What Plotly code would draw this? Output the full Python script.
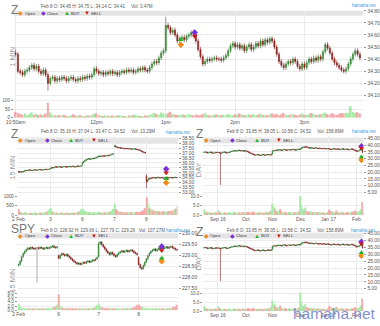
import plotly.graph_objects as go

W, H = 380, 326
FONT = "Liberation Sans, Arial, sans-serif"

# ================= DATA =================
# ---- Panel A : Z 1 MIN (x = minutes after 10:50am) ----
A_symbol, A_period = "Z", "1 MIN"
A_info, A_vol_info = "Feb 8 O: 34.45 H: 34.75 L: 34.14 C: 34.41", "Vol: 3.47M"
A_t = list(range(0, 300, 2))
A_close = [34.44, 34.30, 34.29, 34.27, 34.30, 34.31, 34.33, 34.35, 34.32, 34.34,
           34.30, 34.28, 34.31, 34.27, 34.20, 34.24, 34.25, 34.22, 34.24, 34.23,
           34.25, 34.24, 34.22, 34.24, 34.25, 34.23, 34.22, 34.24, 34.23, 34.25,
           34.24, 34.26, 34.25, 34.27, 34.32, 34.30, 34.28, 34.29, 34.27, 34.29,
           34.28, 34.30, 34.28, 34.29, 34.27, 34.29, 34.30, 34.29, 34.31, 34.30,
           34.31, 34.29, 34.30, 34.32, 34.31, 34.33, 34.31, 34.30, 34.33, 34.36,
           34.38, 34.37, 34.41, 34.45, 34.47, 34.68, 34.66, 34.62, 34.64, 34.60,
           34.55, 34.57, 34.58, 34.56, 34.59, 34.60, 34.62, 34.61, 34.55, 34.48,
           34.42, 34.36, 34.38, 34.40, 34.39, 34.40, 34.41, 34.40, 34.40, 34.39,
           34.41, 34.43, 34.47, 34.51, 34.53, 34.50, 34.52, 34.49, 34.51, 34.47,
           34.50, 34.52, 34.48, 34.50, 34.53, 34.51, 34.55, 34.52, 34.56, 34.54,
           34.57, 34.55, 34.50, 34.44, 34.38, 34.35, 34.33, 34.36, 34.38, 34.37,
           34.40, 34.38, 34.34, 34.32, 34.36, 34.33, 34.37, 34.40, 34.38, 34.41,
           34.39, 34.42, 34.40, 34.46, 34.52, 34.49, 34.45, 34.40, 34.37, 34.35,
           34.33, 34.31, 34.30, 34.32, 34.36, 34.40, 34.44, 34.47, 34.44, 34.41]
A_first_open = 34.45
A_open_fix = {}
A_high_fix = {0: 34.48, 65: 34.75}
A_low_fix = {14: 34.14}
A_vol = [35, 28, 22, 18, 25, 15, 20, 30, 18, 22,
         16, 20, 14, 24, 85, 30, 18, 15, 12, 16,
         14, 18, 12, 10, 15, 20, 13, 11, 16, 12,
         10, 14, 12, 18, 22, 26, 14, 12, 10, 15,
         12, 10, 14, 11, 13, 16, 12, 10, 9, 14,
         12, 15, 18, 13, 11, 10, 14, 12, 16, 20,
         28, 22, 18, 30, 24, 20, 26, 34, 22, 18,
         16, 14, 20, 18, 15, 22, 17, 14, 19, 16,
         14, 20, 26, 18, 15, 13, 17, 21, 16, 14,
         18, 15, 22, 16, 14, 20, 17, 24, 19, 15,
         18, 22, 16, 20, 15, 17, 24, 18, 14, 16,
         20, 26, 18, 22, 15, 19, 28, 16, 14, 18,
         22, 17, 15, 19, 24, 18, 16, 20, 28, 22,
         18, 15, 20, 24, 30, 22, 18, 26, 20, 16,
         22, 28, 24, 30, 26, 65, 34, 28, 32, 24]
A_xticks = [0, 70, 130, 190, 250]
A_xlabels = ["10:50am", "12pm", "1pm", "2pm", "3pm"]
A_yticks = [34.10, 34.20, 34.30, 34.40, 34.50, 34.60, 34.70, 34.80]
A_vticks = [0, 50, 100]
A_vsuffix = "K"
A_mark_x = [143, 155, 143, 155]          # open, close, buy, sell
A_mark_y = [34.52, 34.62, 34.56, 34.59]

# ---- Panel B : Z 15 MIN (x = bar index, 26 bars per day) ----
B_symbol, B_period = "Z", "15 MIN"
B_info, B_vol_info = "Feb 8 O: 35.16 H: 37.04 L: 33.47 C: 34.52", "Vol: 13.29M"
B_close = [35.10, 35.05, 35.12, 35.08, 35.15, 35.20, 35.25, 35.22, 35.28, 35.30,
           35.26, 35.24, 35.28, 35.32, 35.29, 35.27, 35.30, 35.34, 35.31, 35.28,
           35.30, 35.33, 35.36, 35.32, 35.35, 35.38,
           35.45, 35.55, 35.50, 35.58, 35.62, 35.57, 35.60, 35.64, 35.59, 35.56,
           35.61, 35.65, 35.62, 35.58, 35.63, 35.66, 35.61, 35.64, 35.68, 35.63,
           35.60, 35.66, 35.70, 35.65, 35.68, 35.72,
           36.05, 36.15, 36.25, 36.35, 36.40, 36.45, 36.38, 36.42, 36.48, 36.44,
           36.50, 36.55, 36.62, 36.70, 36.66, 36.72, 36.68, 36.75, 36.70, 36.73,
           36.78, 36.74, 36.80, 36.85, 36.90, 36.95,
           37.75, 37.65, 37.60, 37.55, 37.58, 37.50, 37.52, 37.48, 37.45, 37.50,
           37.47, 37.43, 37.46, 37.44, 37.40, 37.42, 37.45, 37.41, 37.38, 37.35,
           37.30, 37.25, 37.18, 37.12, 37.08, 37.02,
           34.10, 34.30, 34.45, 34.40, 34.50, 34.48, 34.52, 34.45, 34.50, 34.55,
           34.50, 34.47, 34.52, 34.49, 34.46, 34.51, 34.55, 34.50, 34.48, 34.53,
           34.50, 34.47, 34.52, 34.55, 34.50, 34.52]
B_first_open = 35.16
B_open_fix = {26: 35.40, 52: 35.80, 78: 37.70, 104: 34.70}
B_high_fix = {104: 34.85}
B_low_fix = {104: 33.47}
B_vol = [320, 180, 140, 120, 110, 150, 130, 100, 90, 120, 110, 95, 105, 130, 100, 90, 115, 140, 120, 100, 110, 130, 150, 170, 200, 280,
         380, 220, 160, 140, 120, 130, 110, 100, 120, 140, 110, 100, 95, 120, 130, 110, 105, 125, 140, 115, 120, 150, 160, 180, 210, 300,
         350, 240, 200, 180, 160, 150, 130, 140, 120, 150, 130, 110, 140, 160, 130, 120, 110, 140, 150, 130, 140, 160, 180, 190, 220, 320,
         600, 320, 250, 200, 180, 170, 160, 140, 150, 130, 140, 120, 130, 150, 140, 120, 130, 160, 170, 150, 160, 180, 200, 230, 260, 380,
         950, 620, 420, 350, 300, 260, 240, 220, 200, 210, 190, 180, 170, 200, 190, 180, 170, 190, 210, 200, 220, 240, 260, 300, 350, 520]
B_xticks = [0, 26, 52, 78, 104]
B_xlabels = ["2 Feb", "3", "6", "7", "8"]
B_yticks = [33.0, 33.5, 34.0, 34.5, 35.0, 35.5, 36.0, 36.5, 37.0, 37.5, 38.0, 38.5]
B_vticks = [0, 500, 1000]
B_vsuffix = "K"
B_mark_x = [120, 120, 120, 120]
B_mark_y = [34.0, 35.4, 34.4, 35.0]

# ---- Panel C / E : Z DAY (x = trading-day index, Aug 17 2016 .. Feb 8 2017) ----
C_symbol, C_period = "Z", "DAY"
C_info, C_vol_info = "Feb 8 O: 33.85 H: 38.05 L: 10.58 C: 34.52", "Vol: 158.89M"
C_close = [34.8, 35.0, 34.6, 34.2, 34.5, 34.9, 34.4, 34.0, 34.3, 34.7, 34.5,
           34.6, 34.3, 34.0, 34.4, 34.8, 35.0, 34.6, 34.2, 34.5, 34.9, 35.2,
           35.5, 35.8, 36.0, 35.7, 35.9, 36.3, 36.1, 35.8, 36.0, 35.6, 35.9,
           35.7, 35.2, 34.8, 34.3, 33.9, 33.5, 33.0, 32.6, 32.9, 33.2, 32.8,
           32.4, 32.7, 33.1, 32.9, 32.5, 32.8, 33.2, 33.0, 32.7, 33.4,
           35.8, 36.2, 36.0, 36.5, 36.3, 36.7, 36.4, 36.1, 36.6, 36.9, 36.5,
           36.2, 36.6, 36.8, 36.4, 36.7, 37.0, 36.6, 36.3, 36.7, 37.1, 36.8,
           37.4, 38.2, 38.7, 38.4, 38.9, 38.5, 38.1, 37.8, 38.2, 37.9, 37.6,
           37.9, 38.1, 37.7, 37.4, 37.8, 37.6, 37.3, 37.7, 37.5, 37.2, 37.6,
           37.4, 37.1, 36.8, 37.2, 37.5, 37.1, 36.9, 37.3, 37.0, 36.7, 37.1,
           37.4, 37.0, 36.8, 37.2, 36.9, 36.6, 37.0, 37.3, 36.9, 36.5, 36.0,
           35.4, 35.7, 36.2, 36.8, 37.0, 34.52]
C_first_open = 34.6
C_open_fix = {}
C_high_fix = {125: 38.05}
C_low_fix = {13: 10.58}
C_vol = [3.0, 1.8, 1.5, 1.2, 1.6, 1.3, 1.1, 1.4, 1.2, 1.5, 1.3,
         2.6, 1.8, 1.4, 1.2, 1.1, 1.5, 1.3, 1.0, 1.2, 1.6, 1.4, 1.1, 1.3, 1.7, 1.2, 1.0, 1.5, 1.3, 1.1, 1.4, 1.6, 1.2,
         1.3, 1.5, 1.8, 1.4, 1.2, 1.6, 1.9, 1.3, 1.1, 1.4, 1.2, 1.5, 1.3, 1.0, 1.2, 1.4, 1.6, 1.3, 1.5, 2.0, 2.4,
         6.0, 4.2, 3.0, 2.2, 1.8, 2.5, 3.2, 2.0, 1.6, 1.4, 1.8, 1.5, 1.3, 1.7, 1.4, 1.2, 1.5, 1.3, 1.6, 1.4, 1.8, 2.0,
         10.5, 5.0, 3.2, 2.4, 4.0, 2.2, 1.8, 1.6, 2.0, 1.5, 1.4, 1.8, 1.3, 1.6, 1.2, 1.5, 1.4, 1.1, 1.3, 1.2, 1.0, 1.4,
         1.6, 3.0, 2.2, 1.8, 1.5, 1.3, 2.4, 1.6, 1.4, 1.2, 1.5, 1.8, 1.3, 1.1, 1.4, 1.6, 1.2, 1.5, 1.3, 1.7, 2.0, 2.3,
         1.8, 1.5, 2.0, 2.6, 3.2, 7.0]
C_xticks = [11, 33, 54, 76, 98, 120]
C_xlabels = ["Sep 16", "Oct", "Nov", "Dec", "Jan 17", "Feb"]
C_yticks = [5, 10, 15, 20, 25, 30, 35, 40, 45]
C_vticks = [0, 5, 10]
C_vsuffix = "M"
C_mark_x = [124, 124, 124, 124]
C_mark_y = [29.0, 39.2, 31.2, 37.7]

# ---- Panel D : SPY 15 MIN (x = bar index, 26 bars per day) ----
D_symbol, D_period = "SPY", "15 MIN"
D_info, D_vol_info = "Feb 8 O: 228.92 H: 229.66 L: 227.79 C: 229.26", "Vol: 107.27M"
D_close = [228.60, 228.75, 228.95, 229.10, 229.20, 229.28, 229.35, 229.30, 229.38, 229.34,
           229.30, 229.33, 229.36, 229.32, 229.38, 229.35, 229.30, 229.34, 229.37, 229.33,
           229.36, 229.40, 229.44, 229.38, 229.36, 229.40,
           228.88, 229.02, 229.10, 229.05, 229.00, 229.06, 228.98, 228.92, 228.85, 228.78,
           228.72, 228.68, 228.62, 228.66, 228.60, 228.64, 228.70, 228.66, 228.72, 228.76,
           228.70, 228.74, 228.80, 228.78, 228.85, 228.92,
           229.55, 229.62, 229.50, 229.40, 229.30, 229.20, 229.12, 229.05, 229.15, 229.08,
           229.00, 228.95, 229.05, 229.12, 229.18, 229.22, 229.16, 229.20, 229.24, 229.18,
           229.22, 229.26, 229.20, 229.14, 229.10, 229.05,
           228.60, 228.45, 228.40, 228.55, 228.70, 228.85, 229.00, 229.12, 229.20, 229.25,
           229.30, 229.22, 229.28, 229.35, 229.30, 229.38, 229.33, 229.36, 229.40, 229.34,
           229.38, 229.42, 229.36, 229.32, 229.28, 229.26]
D_first_open = 228.55
D_open_fix = {26: 229.00, 52: 228.95, 78: 228.92}
D_high_fix = {53: 229.66}
D_low_fix = {}
D_odd_x, D_odd_open, D_odd_low = [12], [229.36], [227.79]
D_vol = [3.0, 1.5, 1.2, 1.0, 0.9, 0.8, 0.7, 0.8, 0.6, 0.7, 0.6, 0.8, 0.7, 0.6, 0.5, 0.6, 0.7, 0.6, 0.8, 0.7, 0.9, 1.0, 1.2, 1.4, 1.8, 2.6,
         7.5, 2.0, 1.4, 1.1, 0.9, 0.8, 1.0, 0.8, 0.7, 0.9, 0.8, 0.7, 0.6, 0.8, 0.7, 0.6, 0.7, 0.8, 0.7, 0.9, 0.8, 1.0, 1.1, 1.3, 1.6, 2.4,
         3.2, 1.8, 1.4, 1.2, 1.0, 0.9, 0.8, 1.0, 0.9, 0.8, 0.7, 0.9, 0.8, 0.7, 0.6, 0.8, 0.7, 0.9, 0.8, 1.0, 0.9, 1.1, 1.2, 1.4, 1.7, 2.5,
         2.8, 2.0, 1.6, 1.3, 1.1, 1.0, 0.9, 0.8, 1.0, 0.9, 0.8, 0.7, 0.9, 0.8, 0.7, 0.8, 0.9, 0.7, 0.8, 1.0, 0.9, 1.1, 1.3, 1.5, 1.8, 2.6]
D_xticks = [0, 26, 52, 78]
D_xlabels = ["2 Feb", "6", "7", "8"]
D_yticks = [227.5, 228.0, 228.5, 229.0, 229.5, 230.0]
D_vticks = [0, 2, 4, 6, 8]
D_vsuffix = "M"
D_mark_x = [93, 93, 93, 93]
D_mark_y = [228.75, 229.42, 228.88, 229.24]

LEGEND_NAMES = ["Open", "Close", "BUY", "SELL"]
LEGEND_COLORS = ["#f08a1c", "#7b2fd6", "#22b522", "#d01818"]
LEGEND_GLYPHS = ["\u25c6", "\u25c6", "\u25b2", "\u25bc"]
MARK_SYMBOLS = ["diamond", "diamond", "triangle-up", "triangle-down"]

# ================= HELPERS =================
def px_x(a):
    return a / W

def px_y(a):
    return 1 - a / H

def build_ohlc(close, first_open, pad, open_fix, high_fix, low_fix):
    o = [first_open] + close[:-1]
    for k, v in open_fix.items():
        o[k] = v
    h = [max(a, b) + pad for a, b in zip(o, close)]
    l = [min(a, b) - pad for a, b in zip(o, close)]
    for k, v in high_fix.items():
        h[k] = v
    for k, v in low_fix.items():
        l[k] = v
    return o, h, l

fig = go.Figure()
annotations, shapes = [], []

def ann(x, y, text, size, color, xanchor="left", yanchor="middle", angle=0):
    annotations.append(dict(x=px_x(x), y=px_y(y), xref="paper", yref="paper", text=text,
                            showarrow=False, xanchor=xanchor, yanchor=yanchor, textangle=angle,
                            borderpad=0, font=dict(size=size, color=color, family=FONT)))

def add_panel(k, g, x, close, first_open, pad, ofix, hfix, lfix, vol,
              xticks, xlabels, yticks, yfmt, vticks, vsuffix, vfmt,
              mark_x, mark_y, symbol, period, info, volinfo):
    n, m = 2 * k + 1, 2 * k + 2
    xn = "x" if n == 1 else "x%d" % n
    yn = "y" if n == 1 else "y%d" % n
    xm, ym = "x%d" % m, "y%d" % m
    o, h, l = build_ohlc(close, first_open, pad, ofix, hfix, lfix)
    fig.add_trace(go.Candlestick(
        x=x, open=o, high=h, low=l, close=close, xaxis=xn, yaxis=yn,
        whiskerwidth=0,
        increasing=dict(line=dict(color="#2f7a2f", width=0.6), fillcolor="#3f9f3f"),
        decreasing=dict(line=dict(color="#7d1d1d", width=0.6), fillcolor="#a82020"),
        hoverinfo="skip"))
    cols = ["#a6eaa6" if c >= oo else "#f4a9a9" for c, oo in zip(close, o)]
    fig.add_trace(go.Bar(x=x, y=vol, xaxis=xm, yaxis=ym, marker=dict(color=cols, line=dict(width=0)),
                         hoverinfo="skip"))
    fig.add_trace(go.Scatter(
        x=mark_x, y=mark_y, xaxis=xn, yaxis=yn, mode="markers", hoverinfo="skip",
        marker=dict(symbol=MARK_SYMBOLS, color=LEGEND_COLORS, size=5, line=dict(width=0))))
    grid = dict(showgrid=True, gridcolor="#ebebeb", gridwidth=0.6, zeroline=False, showline=False)
    tf = dict(size=5, color="#555", family=FONT)
    x0, x1 = g["x"]
    fig.update_layout(**{
        ("xaxis" if n == 1 else "xaxis%d" % n): dict(
            domain=[px_x(x0), px_x(x1)], anchor=yn, matches=xm, range=g["xr"],
            tickvals=xticks, showticklabels=False, ticks="", rangeslider=dict(visible=False), **grid),
        "xaxis%d" % m: dict(
            domain=[px_x(x0), px_x(x1)], anchor=ym, range=g["xr"], tickvals=xticks, ticktext=xlabels,
            ticks="", tickfont=tf, rangeslider=dict(visible=False), **grid),
        ("yaxis" if n == 1 else "yaxis%d" % n): dict(
            domain=[px_y(g["py"][1]), px_y(g["py"][0])], anchor=xn, side="right", range=g["pr"],
            tickvals=yticks, tickformat=yfmt, ticks="outside", ticklen=2, tickwidth=0.5,
            tickcolor="#999", tickfont=tf, **grid),
        "yaxis%d" % m: dict(
            domain=[px_y(g["vy"][1]), px_y(g["vy"][0])], anchor=xm, side="left", range=g["vr"],
            tickvals=vticks, tickformat=vfmt, ticksuffix=vsuffix, ticks="outside", ticklen=2,
            tickwidth=0.5, tickcolor="#999", tickfont=dict(size=4.5, color="#555", family=FONT), **grid),
    })
    # legend band
    by0, by1 = g["band"]
    shapes.append(dict(type="rect", xref="paper", yref="paper", x0=px_x(x0), x1=px_x(x1),
                       y0=px_y(by1), y1=px_y(by0), fillcolor="#e4e4e4", line=dict(width=0), layer="below"))
    bc = (by0 + by1) / 2
    for (lx, name, col, glyph) in zip(g["leg"], LEGEND_NAMES, LEGEND_COLORS, LEGEND_GLYPHS):
        ann(lx, bc, glyph, 6, col, xanchor="center")
        ann(lx + 3, bc, name, 4.2, "#333")
    sx, sy = g["sym"]
    ann(sx, sy, symbol, 12, "#777")
    ann(g["per"][0], g["per"][1], period, 7.5, "#999", xanchor="center", angle=-90)
    ann(g["info"][0], g["info"][1], info + "\u00a0" * g["gap"] + volinfo, 4.5, "#555")
    ann(g["link"][0], g["link"][1], "hamaha.net", 4.5, "#3a9ad9", xanchor="right")

A_geom = dict(x=(6, 364), xr=[-1.5, 301], py=(8, 96), pr=[34.084, 34.80], vy=(97, 117), vr=[0, 111.1],
              band=(8, 13), leg=[13, 36, 60, 81], sym=(2, 7), per=(5, 55), info=(33, 4), gap=5, link=(379, 3))
B_geom = dict(x=(10, 174), xr=[-0.5, 129.5], py=(136, 195), pr=[32.8, 38.7], vy=(196, 216), vr=[0, 1052],
              band=(137, 143), leg=[13, 40, 65, 88], sym=(2, 133), per=(5, 168), info=(33, 131), gap=5,
              link=(188, 132))
C_geom = dict(x=(200, 364), xr=[-0.5, 125.5], py=(136, 195), pr=[3.55, 46.45], vy=(196, 216), vr=[0, 10.53],
              band=(137, 143), leg=[203, 230, 255, 278], sym=(192, 133), per=(195, 170), info=(223, 131), gap=5,
              link=(379, 131))
D_geom = dict(x=(10, 174), xr=[-0.5, 103.5], py=(233, 294), pr=[227.366, 230.089], vy=(295, 313), vr=[0, 8.47],
              band=(234, 240), leg=[13, 40, 65, 88], sym=(2, 230), per=(5, 283), info=(33, 232), gap=3,
              link=(188, 232))
E_geom = dict(x=(200, 364), xr=[-0.5, 125.5], py=(233, 293), pr=[3.57, 46.43], vy=(294, 314), vr=[0, 11.1],
              band=(234, 240), leg=[203, 230, 255, 278], sym=(192, 233), per=(195, 265), info=(223, 232), gap=5,
              link=(378, 232))

add_panel(0, A_geom, A_t, A_close, A_first_open, 0.02, A_open_fix, A_high_fix, A_low_fix, A_vol,
          A_xticks, A_xlabels, A_yticks, ".2f", A_vticks, A_vsuffix, "d",
          A_mark_x, A_mark_y, A_symbol, A_period, A_info, A_vol_info)
add_panel(1, B_geom, list(range(len(B_close))), B_close, B_first_open, 0.04, B_open_fix, B_high_fix, B_low_fix,
          B_vol, B_xticks, B_xlabels, B_yticks, ".2f", B_vticks, B_vsuffix, "d",
          B_mark_x, B_mark_y, B_symbol, B_period, B_info, B_vol_info)
add_panel(2, C_geom, list(range(len(C_close))), C_close, C_first_open, 0.3, C_open_fix, C_high_fix, C_low_fix,
          C_vol, C_xticks, C_xlabels, C_yticks, ".2f", C_vticks, C_vsuffix, ".1f",
          C_mark_x, C_mark_y, C_symbol, C_period, C_info, C_vol_info)
add_panel(3, D_geom, list(range(len(D_close))), D_close, D_first_open, 0.04, D_open_fix, D_high_fix, D_low_fix,
          D_vol, D_xticks, D_xlabels, D_yticks, ".2f", D_vticks, D_vsuffix, ".1f",
          D_mark_x, D_mark_y, D_symbol, D_period, D_info, D_vol_info)
add_panel(4, E_geom, list(range(len(C_close))), C_close, C_first_open, 0.3, C_open_fix, C_high_fix, C_low_fix,
          C_vol, C_xticks, C_xlabels, C_yticks, ".2f", C_vticks, C_vsuffix, ".1f",
          C_mark_x, C_mark_y, C_symbol, "DAY", C_info, C_vol_info)

# odd SPY bar with the long low (grey)
fig.add_trace(go.Candlestick(x=D_odd_x, open=D_odd_open, high=D_odd_open, low=D_odd_low, close=D_odd_low,
                             xaxis="x7", yaxis="y7", whiskerwidth=0, hoverinfo="skip",
                             increasing=dict(line=dict(color="#bdbdbd", width=0.5), fillcolor="#c8c8c8"),
                             decreasing=dict(line=dict(color="#bdbdbd", width=0.5), fillcolor="#c8c8c8")))

# watermark
ann(378, 316, "hamaha.net", 15.5, "rgba(95,115,205,0.8)", xanchor="right")

fig.update_layout(width=W, height=H, margin=dict(l=0, r=0, t=0, b=0), paper_bgcolor="white",
                  plot_bgcolor="white", showlegend=False, bargap=0.2,
                  annotations=annotations, shapes=shapes, font=dict(family=FONT))
fig.write_html("out.html")
